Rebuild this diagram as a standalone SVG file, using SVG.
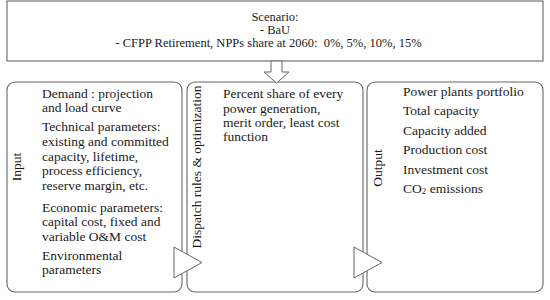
<svg xmlns="http://www.w3.org/2000/svg" width="550" height="300" viewBox="0 0 550 300">
<style>
.box{fill:#fff;stroke:#666;stroke-width:1.1}
.t{font-family:"Liberation Serif","Times New Roman",serif;font-size:13.5px;fill:#1a1a1a}
.s{font-size:12.5px}
.c{text-anchor:middle}
.arr{fill:#fff;stroke:#666;stroke-width:1}
</style>
<rect width="550" height="300" fill="#fff"/>
<g id="scenario">
<rect class="box" x="7" y="1" width="536" height="60"/>
<text class="t s c" x="275" y="21">Scenario:</text>
<text class="t s c" x="275" y="33.5">- BaU</text>
<text class="t s c" x="268.5" y="46.5" style="white-space:pre">- CFPP Retirement, NPPs share at 2060:  0%, 5%, 10%, 15%</text>
</g>
<g id="input">
<rect class="box" x="7" y="82" width="175" height="210" rx="8"/>
<text class="t c" transform="translate(21,167) rotate(-90)">Input</text>
<text class="t" x="42" y="98">Demand : projection</text>
<text class="t" x="42" y="112">and load curve</text>
<text class="t" x="42" y="131">Technical parameters:</text>
<text class="t" x="42" y="146">existing and committed</text>
<text class="t" x="42" y="161">capacity, lifetime,</text>
<text class="t" x="42" y="175">process efficiency,</text>
<text class="t" x="42" y="190">reserve margin, etc.</text>
<text class="t" x="42" y="212">Economic parameters:</text>
<text class="t" x="42" y="226">capital cost, fixed and</text>
<text class="t" x="42" y="241">variable O&amp;M cost</text>
<text class="t" x="42" y="260">Environmental</text>
<text class="t" x="42" y="274">parameters</text>
</g>
<g id="dispatch">
<rect class="box" x="187" y="82" width="176" height="210" rx="8"/>
<text class="t c" transform="translate(201,167) rotate(-90)">Dispatch rules &amp; optimization</text>
<text class="t" x="223" y="98">Percent share of every</text>
<text class="t" x="223" y="113">power generation,</text>
<text class="t" x="223" y="127">merit order, least cost</text>
<text class="t" x="223" y="141">function</text>
</g>
<g id="output">
<rect class="box" x="367" y="82" width="176" height="210" rx="8"/>
<text class="t c" transform="translate(382,168) rotate(-90)">Output</text>
<text class="t" x="403" y="96">Power plants portfolio</text>
<text class="t" x="403" y="115">Total capacity</text>
<text class="t" x="403" y="135">Capacity added</text>
<text class="t" x="403" y="154">Production cost</text>
<text class="t" x="403" y="174">Investment cost</text>
<text class="t" x="403" y="193">CO<tspan font-size="9" dy="1">2</tspan><tspan dy="-1"> emissions</tspan></text>
</g>
<g id="connectors">
<polygon class="arr" points="271,61 282,61 282,72 289,72 276.5,83 264,72 271,72"/>
<polygon class="arr" points="174,247 202,262.5 174,278"/>
<polygon class="arr" points="354,247 382,262.5 354,278"/>
</g>
</svg>
